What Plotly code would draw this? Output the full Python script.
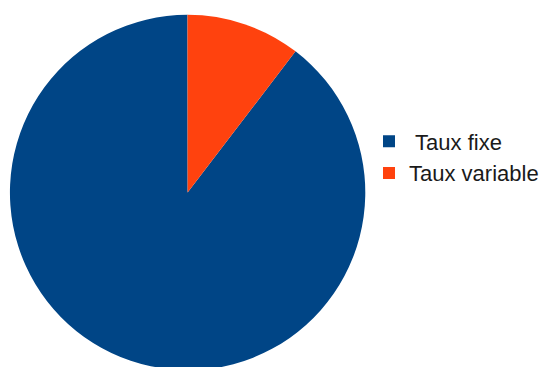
import plotly.graph_objects as go

labels = ["\u00a0Taux fixe", "Taux variable"]
values = [89.6, 10.4]
colors = ["#004586", "#ff420e"]

W, H = 544, 372

fig = go.Figure(go.Pie(
    labels=labels,
    values=values,
    sort=False,
    direction="clockwise",
    rotation=37.4,
    marker=dict(colors=colors, line=dict(width=0)),
    textinfo="none",
    domain=dict(x=[10 / W, 368 / W], y=[1 - 372 / H, 1 - 13 / H]),
))

fig.update_layout(
    width=W, height=H,
    margin=dict(l=0, r=0, t=0, b=0),
    paper_bgcolor="white",
    plot_bgcolor="white",
    font=dict(family="Liberation Sans, Arial, sans-serif", size=22, color="#1a1a1a"),
    legend=dict(x=372 / W, xanchor="left", y=1 - 157.5 / H, yanchor="middle",
                bgcolor="rgba(0,0,0,0)", font=dict(size=22)),
)

fig.write_html("out.html", post_script="document.body.style.overflow='hidden';document.body.style.margin='0';")
